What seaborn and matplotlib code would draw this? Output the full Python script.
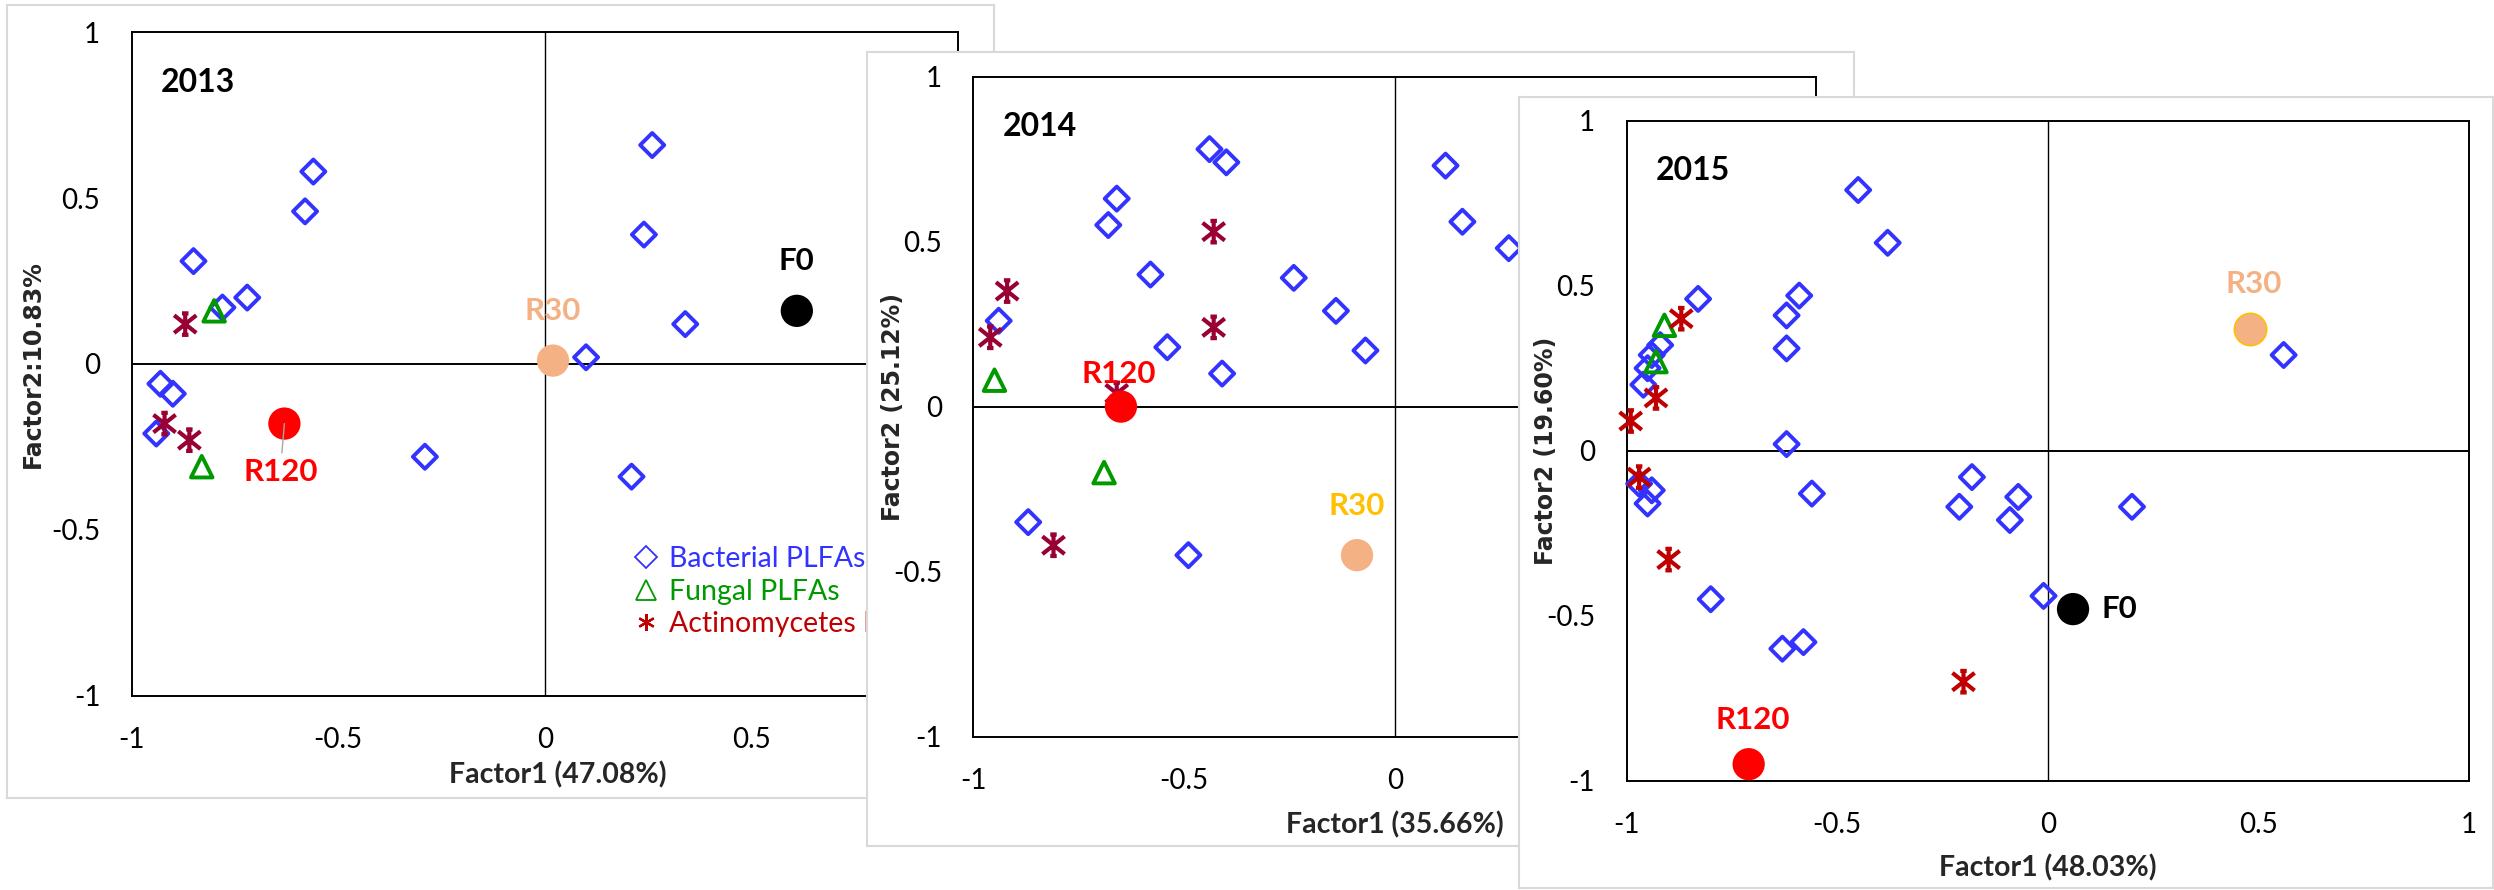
import matplotlib
matplotlib.use("Agg")
import matplotlib.pyplot as plt
from matplotlib.lines import Line2D
from matplotlib.path import Path
from matplotlib.ticker import FuncFormatter
import pandas as pd
import seaborn as sns

# PCA loadings (Factor1, Factor2)
YEARS = ["2013", "2014", "2015"]
X_TITLES = ["Factor1 (47.08%)", "Factor1 (35.66%)", "Factor1 (48.03%)"]
Y_TITLES = ["Factor2:10.83%", "Factor2 (25.12%)", "Factor2 (19.60%)"]
TICKS = [-1, -0.5, 0, 0.5, 1]
LEGEND_LABELS = ["Bacterial PLFAs", "Fungal PLFAs", "Actinomycetes PLFAs"]

bact_f1_2013 = [0.26, -0.56, -0.58, 0.24, -0.85, -0.72, -0.78, 0.34, 0.10, -0.93, -0.90, -0.94, -0.29, 0.21]
bact_f2_2013 = [0.66, 0.58, 0.46, 0.39, 0.31, 0.20, 0.17, 0.12, 0.02, -0.06, -0.09, -0.21, -0.28, -0.34]
fung_f1_2013 = [-0.80, -0.83]
fung_f2_2013 = [0.16, -0.31]
acti_f1_2013 = [-0.87, -0.92, -0.86]
acti_f2_2013 = [0.12, -0.18, -0.23]

bact_f1_2014 = [-0.44, -0.40, 0.12, -0.66, -0.68, 0.16, 0.27, -0.58, -0.24, -0.14,
                -0.94, -0.07, -0.54, -0.41, -0.87, -0.49]
bact_f2_2014 = [0.78, 0.74, 0.73, 0.63, 0.55, 0.56, 0.48, 0.40, 0.39, 0.29,
                0.26, 0.17, 0.18, 0.10, -0.35, -0.45]
fung_f1_2014 = [-0.95, -0.69]
fung_f2_2014 = [0.08, -0.20]
acti_f1_2014 = [-0.43, -0.92, -0.96, -0.43, -0.66, -0.81]
acti_f2_2014 = [0.53, 0.35, 0.21, 0.24, 0.04, -0.42]

bact_f1_2015 = [-0.45, -0.38, -0.83, -0.59, -0.62, -0.62, -0.92, -0.94, -0.95, -0.96, 0.56, -0.62,
                -0.18, -0.97, -0.94, -0.95, -0.56, -0.07, -0.21, -0.09, 0.20, -0.80, -0.01, -0.58, -0.63]
bact_f2_2015 = [0.79, 0.63, 0.46, 0.47, 0.41, 0.31, 0.32, 0.29, 0.25, 0.20, 0.29, 0.02,
                -0.08, -0.10, -0.12, -0.16, -0.13, -0.14, -0.17, -0.21, -0.17, -0.45, -0.44, -0.58, -0.60]
fung_f1_2015 = [-0.91, -0.93]
fung_f2_2015 = [0.38, 0.27]
acti_f1_2015 = [-0.87, -0.93, -0.99, -0.97, -0.90, -0.20]
acti_f2_2015 = [0.40, 0.16, 0.09, -0.08, -0.33, -0.70]

# treatment scores
treat_2013 = ["F0", "R30", "R120"]
treat_f1_2013 = [0.61, 0.02, -0.63]
treat_f2_2013 = [0.16, 0.01, -0.18]
treat_2014 = ["R30", "R120"]
treat_f1_2014 = [-0.09, -0.65]
treat_f2_2014 = [-0.45, 0.00]
treat_2015 = ["F0", "R30", "R120"]
treat_f1_2015 = [0.06, 0.48, -0.71]
treat_f2_2015 = [-0.48, 0.37, -0.95]

# where the treatment names sit
lab_x_2013 = [0.61, 0.02, -0.64]
lab_y_2013 = [0.31, 0.16, -0.325]
lab_x_2014 = [-0.09, -0.655]
lab_y_2014 = [-0.30, 0.10]
lab_x_2015 = [0.17, 0.49, -0.70]
lab_y_2015 = [-0.48, 0.505, -0.815]

BLUE = "#3333FF"
GREEN = "#009900"
DARKRED = "#990033"
RED3 = "#C00000"
PEACH = "#F4B183"
GOLD = "#FFC000"
CIRCLE_COL = {"F0": "black", "R30": PEACH, "R120": "#FF0000"}

STAR = Path([(0, -1), (0, 1), (-1.03, -0.82), (1.03, 0.82), (-1.03, 0.82), (1.03, -0.82),
             (-0.3, 1), (0.3, 1), (-0.3, -1), (0.3, -1)],
            [Path.MOVETO, Path.LINETO] * 5)

W, H = 2494, 890
CARDS = [(7, 5, 994, 798), (867, 52, 1854, 846), (1519, 97, 2493, 888)]
PLOTS = [(131.5, 32.3, 958, 695.5), (973.4, 76.5, 1816.5, 736.7), (1626.5, 120.7, 2469, 780.7)]
YLAB_X = [-0.1198, -0.0954, -0.0955]
XLAB_POS = [(0.516, -0.12), (0.5, -0.134), (0.5, -0.132)]


def px_rect(l, t, r, b):
    return [l / W, 1 - b / H, (r - l) / W, (b - t) / H]


sns.set_style("white")
plt.rcParams["font.family"] = ["Lato", "DejaVu Sans"]
plt.rcParams["axes.unicode_minus"] = False

panels = [
    dict(bact=(bact_f1_2013, bact_f2_2013), fung=(fung_f1_2013, fung_f2_2013),
         acti=(acti_f1_2013, acti_f2_2013), acol=DARKRED,
         treat=(treat_2013, treat_f1_2013, treat_f2_2013), lab=(lab_x_2013, lab_y_2013),
         labcol=["black", PEACH, "#FF0000"], edge={}),
    dict(bact=(bact_f1_2014, bact_f2_2014), fung=(fung_f1_2014, fung_f2_2014),
         acti=(acti_f1_2014, acti_f2_2014), acol=DARKRED,
         treat=(treat_2014, treat_f1_2014, treat_f2_2014), lab=(lab_x_2014, lab_y_2014),
         labcol=[GOLD, "#FF0000"], edge={}),
    dict(bact=(bact_f1_2015, bact_f2_2015), fung=(fung_f1_2015, fung_f2_2015),
         acti=(acti_f1_2015, acti_f2_2015), acol=RED3,
         treat=(treat_2015, treat_f1_2015, treat_f2_2015), lab=(lab_x_2015, lab_y_2015),
         labcol=["black", PEACH, "#FF0000"], edge={"R30": GOLD}),
]

fig = plt.figure(figsize=(24.94, 8.90), dpi=100)
fig.patch.set_facecolor("white")

for i, p in enumerate(panels):
    # chart area card (later cards sit on top of earlier panels)
    card = fig.add_axes(px_rect(*CARDS[i]))
    card.set_xticks([])
    card.set_yticks([])
    card.set_facecolor("white")
    for sp in card.spines.values():
        sp.set_color("#D9D9D9")
        sp.set_linewidth(1.5)

    ax = fig.add_axes(px_rect(*PLOTS[i]))
    ax.set_facecolor("none")
    ax.set_xlim(-1, 1)
    ax.set_ylim(-1, 1)
    for sp in ax.spines.values():
        sp.set_color("black")
        sp.set_linewidth(1.4)
    ax.axvline(0, color="black", lw=1.0, zorder=1)
    ax.axhline(0, color="black", lw=1.4, zorder=1)

    groups = [
        (p["bact"], "D", 150, BLUE, 2.8),
        (p["fung"], "^", 240, GREEN, 2.8),
        (p["acti"], STAR, 255, p["acol"], 3.0),
    ]
    for (f1, f2), mk, size, col, lw in groups:
        df = pd.DataFrame({"Factor1": f1, "Factor2": f2})
        sns.scatterplot(data=df, x="Factor1", y="Factor2", marker=mk, s=size,
                        color=col, facecolor="none", edgecolor=col, linewidth=lw,
                        ax=ax, legend=False, zorder=3, clip_on=False)

    names, tf1, tf2 = p["treat"]
    for k, name in enumerate(names):
        df = pd.DataFrame({"Factor1": [tf1[k]], "Factor2": [tf2[k]]})
        ec = p["edge"].get(name, "none")
        sns.scatterplot(data=df, x="Factor1", y="Factor2", marker="o", s=540,
                        color=CIRCLE_COL[name], edgecolor=ec, linewidth=1.2,
                        ax=ax, legend=False, zorder=4, clip_on=False)
        lx, ly = p["lab"][0][k], p["lab"][1][k]
        if i == 0 and name == "R120":
            ax.annotate(name, xy=(tf1[k], tf2[k]), xytext=(lx, ly), ha="center", va="center",
                        fontsize=22.5, fontweight="bold", color=p["labcol"][k], zorder=5,
                        arrowprops=dict(arrowstyle="-", color="#A6A6A6", lw=1.0,
                                        shrinkA=1, shrinkB=0))
        else:
            ax.text(lx, ly, name, ha="center", va="center", fontsize=22.5,
                    fontweight="bold", color=p["labcol"][k], zorder=5)

    ax.text(0.035, 0.925, YEARS[i], transform=ax.transAxes, ha="left", va="center",
            fontsize=23, fontweight="bold", color="black")

    ax.set_xticks(TICKS)
    ax.set_yticks(TICKS)
    fmt = FuncFormatter(lambda v, pos: f"{v:g}")
    ax.xaxis.set_major_formatter(fmt)
    ax.yaxis.set_major_formatter(fmt)
    ax.tick_params(length=0, labelsize=20, pad=22.5, colors="black")

    ax.set_xlabel(X_TITLES[i], fontsize=20.5, fontweight="bold", va="center")
    ax.xaxis.set_label_coords(*XLAB_POS[i])
    ax.set_ylabel(Y_TITLES[i], fontsize=17, fontweight="bold", va="center",
                  family=["DejaVu Sans"])
    ax.yaxis.set_label_coords(YLAB_X[i], 0.5)

    if i == 0:
        handles = [
            Line2D([], [], ls="none", marker="D", ms=11, mfc="none", mec=BLUE, mew=1.3),
            Line2D([], [], ls="none", marker="^", ms=15, mfc="none", mec=GREEN, mew=1.3),
            Line2D([], [], ls="none", marker=(6, 2, 0), ms=12, mec=RED3, mew=1.6),
        ]
        ax.legend(handles, LEGEND_LABELS, loc="upper left", bbox_to_anchor=(0.215, -0.55),
                  bbox_transform=ax.transData, frameon=False, fontsize=20.5,
                  handlelength=0.9, handletextpad=0.35, labelspacing=0.22,
                  borderpad=0, borderaxespad=0, labelcolor=[BLUE, GREEN, RED3])

fig.savefig("out.png", dpi=100)
